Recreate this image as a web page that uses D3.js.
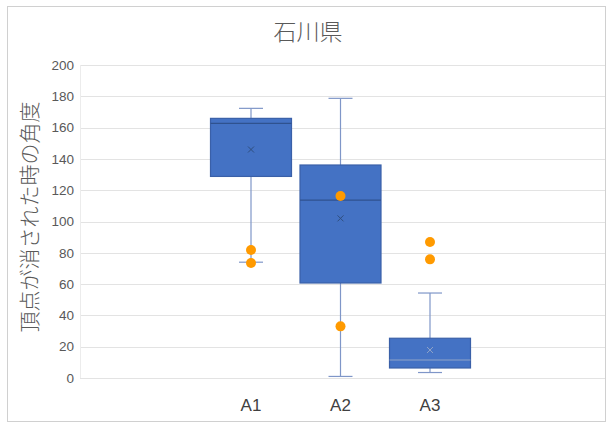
<!DOCTYPE html>
<html>
<head>
<meta charset="utf-8">
<script src="https://cdn.jsdelivr.net/npm/d3@7"></script>
<style>
  body { margin: 0; background: #fff; }
  svg { display: block; font-family: "Liberation Sans", Arial, sans-serif; }
</style>
</head>
<body>
<div id="chart"></div>
<script>
// data
var categories = ['A1', 'A2', 'A3'];
var whiskerLow = [74, 1, 3.5];
var q1 = [128.8, 60.7, 6.4];
var median = [162.7, 113.7, 11.5];
var q3 = [165.9, 136.1, 25.4];
var whiskerHigh = [172.3, 178.7, 54.3];
var means = [146, 102, 17.9];
var outliers = [[81.8, 73.5], [116.3, 33], [86.9, 75.8]];
var yTicks = [0, 20, 40, 60, 80, 100, 120, 140, 160, 180, 200];

(function() {
  var width = 606, height = 425, svg, x, y, boxes, boxW = 81, capW = 24;

  svg = d3.select('#chart').append('svg').attr('width', width).attr('height', height);

  // outer frame
  svg.append('rect').attr('x', 7.5).attr('y', 6.5).attr('width', width - 8).attr('height', height - 10)
    .attr('fill', 'none').attr('stroke', '#d0d0d0');

  y = d3.scaleLinear().domain([0, 200]).range([378, 65]);
  x = d3.scalePoint().domain(categories).range([251, 430]);

  // grid
  svg.append('g').selectAll('line').data(yTicks).enter().append('line')
    .attr('x1', 80).attr('x2', 605)
    .attr('y1', function(d) { return Math.round(y(d)) + 0.5; })
    .attr('y2', function(d) { return Math.round(y(d)) + 0.5; })
    .attr('stroke', '#e3e3e3').attr('stroke-width', 1);
  svg.append('line').attr('x1', 80.5).attr('x2', 80.5).attr('y1', y(200)).attr('y2', y(0))
    .attr('stroke', '#ececec');

  // y axis tick labels
  svg.append('g').selectAll('text').data(yTicks).enter().append('text')
    .attr('x', 74).attr('y', function(d) { return y(d); })
    .attr('dy', '0.35em').attr('text-anchor', 'end')
    .attr('font-size', 13.5).attr('fill', '#595959')
    .text(function(d) { return d; });

  // x labels
  svg.append('g').selectAll('text').data(categories).enter().append('text')
    .attr('x', function(d) { return x(d); }).attr('y', 405)
    .attr('dy', '0.35em').attr('text-anchor', 'middle')
    .attr('font-size', 17).attr('fill', '#404040')
    .text(function(d) { return d; });

  // title
  svg.append('text').attr('x', 308).attr('y', 32).attr('dy', '0.35em')
    .attr('text-anchor', 'middle').attr('font-size', 23).attr('fill', '#595959')
    .attr('font-weight', 300)
    .attr('font-family', '"Noto Sans CJK JP", sans-serif')
    .text('石川県');

  // y axis title
  svg.append('text').attr('transform', 'translate(30,217) rotate(-90)')
    .attr('dy', '0.35em').attr('text-anchor', 'middle')
    .attr('font-size', 21).attr('fill', '#595959')
    .attr('font-weight', 300)
    .attr('font-family', '"Noto Sans CJK JP", sans-serif')
    .text('頂点が消された時の角度');

  boxes = svg.append('g').selectAll('g').data(categories).enter().append('g')
    .attr('transform', function(d) { return 'translate(' + x(d) + ',0)'; });

  // whiskers
  boxes.append('line').attr('x1', 0).attr('x2', 0)
    .attr('y1', function(d, i) { return y(whiskerHigh[i]); })
    .attr('y2', function(d, i) { return y(q3[i]); })
    .attr('stroke', '#7f96c8').attr('stroke-width', 1.2);
  boxes.append('line').attr('x1', 0).attr('x2', 0)
    .attr('y1', function(d, i) { return y(q1[i]); })
    .attr('y2', function(d, i) { return y(whiskerLow[i]); })
    .attr('stroke', '#7f96c8').attr('stroke-width', 1.2);
  boxes.append('line').attr('x1', -capW / 2).attr('x2', capW / 2)
    .attr('y1', function(d, i) { return y(whiskerHigh[i]); })
    .attr('y2', function(d, i) { return y(whiskerHigh[i]); })
    .attr('stroke', '#7f96c8').attr('stroke-width', 1.2);
  boxes.append('line').attr('x1', -capW / 2).attr('x2', capW / 2)
    .attr('y1', function(d, i) { return y(whiskerLow[i]); })
    .attr('y2', function(d, i) { return y(whiskerLow[i]); })
    .attr('stroke', '#7f96c8').attr('stroke-width', 1.2);

  // box
  boxes.append('rect').attr('x', -boxW / 2).attr('width', boxW)
    .attr('y', function(d, i) { return y(q3[i]); })
    .attr('height', function(d, i) { return y(q1[i]) - y(q3[i]); })
    .attr('fill', '#4472c4').attr('stroke', '#3a60a8').attr('stroke-width', 1.2);

  // median
  boxes.append('line').attr('x1', -boxW / 2).attr('x2', boxW / 2)
    .attr('y1', function(d, i) { return y(median[i]); })
    .attr('y2', function(d, i) { return y(median[i]); })
    .attr('stroke', function(d, i) { return i === 2 ? '#8fa3c8' : '#2f528f'; }).attr('stroke-width', 1.2);

  // mean marker
  boxes.append('path')
    .attr('d', function(d, i) { var m = y(means[i]); return 'M-3,' + (m - 3) + 'L3,' + (m + 3) + 'M3,' + (m - 3) + 'L-3,' + (m + 3); })
    .attr('stroke', function(d, i) { return i === 2 ? '#8fa3c8' : '#2f4f80'; }).attr('stroke-width', 1);

  // outliers
  boxes.selectAll('circle').data(function(d, i) { return outliers[i]; }).enter().append('circle')
    .attr('cx', 0).attr('cy', function(v) { return y(v); }).attr('r', 5)
    .attr('fill', '#ff9a00');
})();
</script>
</body>
</html>
